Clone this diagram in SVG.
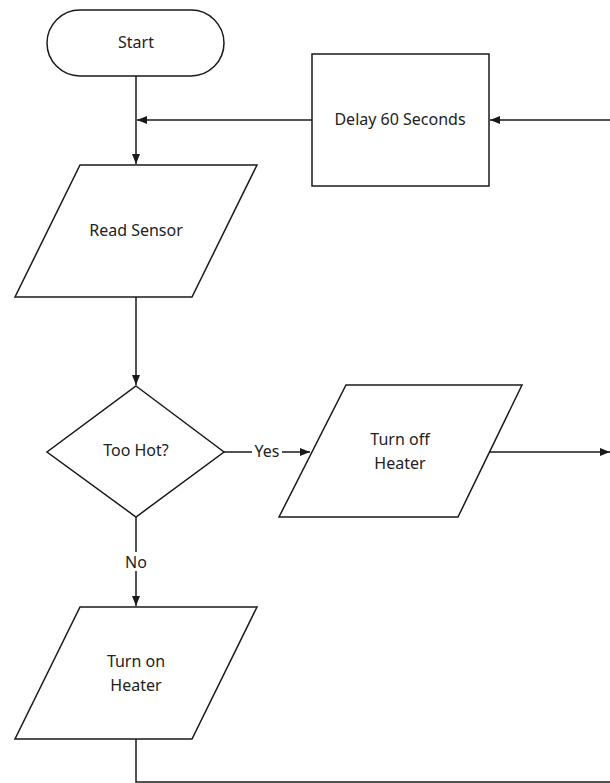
<svg xmlns="http://www.w3.org/2000/svg" width="610" height="783" viewBox="0 0 610 783">
<style>
.s{fill:#fff;stroke:#1a1a1a;stroke-width:1.5}
.c{fill:none;stroke:#1a1a1a;stroke-width:1.5}
text{font-family:"Noto Sans","Open Sans",sans-serif;font-size:16px;fill:#222;text-anchor:middle}
</style>
<defs>
<marker id="ah" viewBox="0 0 10 10" refX="10" refY="5" markerWidth="10" markerHeight="10" markerUnits="userSpaceOnUse" orient="auto">
<path d="M0,1 L10,5 L0,9 Z" fill="#1a1a1a"/>
</marker>
</defs>
<g id="connectors">
<path class="c" d="M136,76 V164" marker-end="url(#ah)"/>
<path class="c" d="M312,120 H137" marker-end="url(#ah)"/>
<path class="c" d="M610,120 H490" marker-end="url(#ah)"/>
<path class="c" d="M136,297 V385" marker-end="url(#ah)"/>
<path class="c" d="M224,452 H310" marker-end="url(#ah)"/>
<path class="c" d="M136,517 V606" marker-end="url(#ah)"/>
<path class="c" d="M490,452 H610" marker-end="url(#ah)"/>
<path class="c" d="M136,739 V782 H610"/>
<rect x="252" y="442" width="30" height="19" fill="#fff"/>
<text x="267" y="457">Yes</text>
<rect x="123" y="552" width="26" height="19" fill="#fff"/>
<text x="136" y="568">No</text>
</g>
<g id="start">
<rect class="s" x="47" y="10" width="177" height="66" rx="33" ry="33"/>
<text x="136" y="48">Start</text>
</g>
<g id="delay">
<rect class="s" x="312" y="54" width="177" height="132"/>
<text x="400" y="125">Delay 60 Seconds</text>
</g>
<g id="read">
<polygon class="s" points="80,165 257,165 192,297 15,297"/>
<text x="136" y="236">Read Sensor</text>
</g>
<g id="decision">
<polygon class="s" points="136,386 224,452 136,517 47,452"/>
<text x="136" y="456">Too Hot?</text>
</g>
<g id="off">
<polygon class="s" points="346,385 522,385 458,517 279,517"/>
<text x="400" y="445">Turn off</text>
<text x="400" y="469">Heater</text>
</g>
<g id="on">
<polygon class="s" points="80,607 257,607 192,739 15,739"/>
<text x="136" y="667">Turn on</text>
<text x="136" y="691">Heater</text>
</g>
</svg>
